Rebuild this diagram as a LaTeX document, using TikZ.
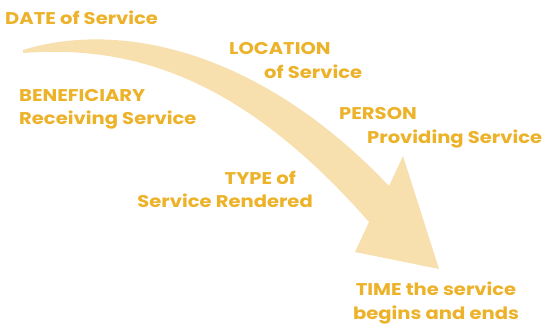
\documentclass[tikz,border=0pt]{standalone}
\usepackage{fontspec}
\setmainfont{Poppins}[FakeStretch=1.15]
\usetikzlibrary{positioning}
\definecolor{gold}{RGB}{236,178,42}
\definecolor{peach}{RGB}{248,223,174}

\begin{document}
\begin{tikzpicture}[x=1pt,y=-1pt]
\tikzstyle{field}=[text=gold,font=\fontsize{17}{23.5}\selectfont\bfseries,
inner sep=0pt]
\useasboundingbox (0,0) rectangle (543,324);
% the big sweeping arrow
\fill[peach] (23,50) .. controls (120,20) and (260,50) .. (389,186)
-- (403,156) -- (439,269) -- (355,252) -- (369,222)
.. controls (240,75) and (130,45) .. (23,53) -- cycle;
\node[field,anchor=base west] (date) at (5,24) {DATE of Service};
\node[field,anchor=base west,align=left] (location) at (229,78)
{LOCATION\\\hspace*{35pt}of Service};
\node[field,anchor=base west,align=left] (beneficiary) at (19,124.5)
{BENEFICIARY\\Receiving Service};
\node[field,anchor=base west,align=left] (person) at (339,143)
{PERSON\\\hspace*{28pt}Providing Service};
\node[field,anchor=base east,align=right] (type) at (313,207.5)
{TYPE of\hspace*{17pt}\\Service Rendered};
\node[field,anchor=base,align=center] (time) at (436,319)
{TIME the service\\begins and ends};
\end{tikzpicture}
\end{document}
